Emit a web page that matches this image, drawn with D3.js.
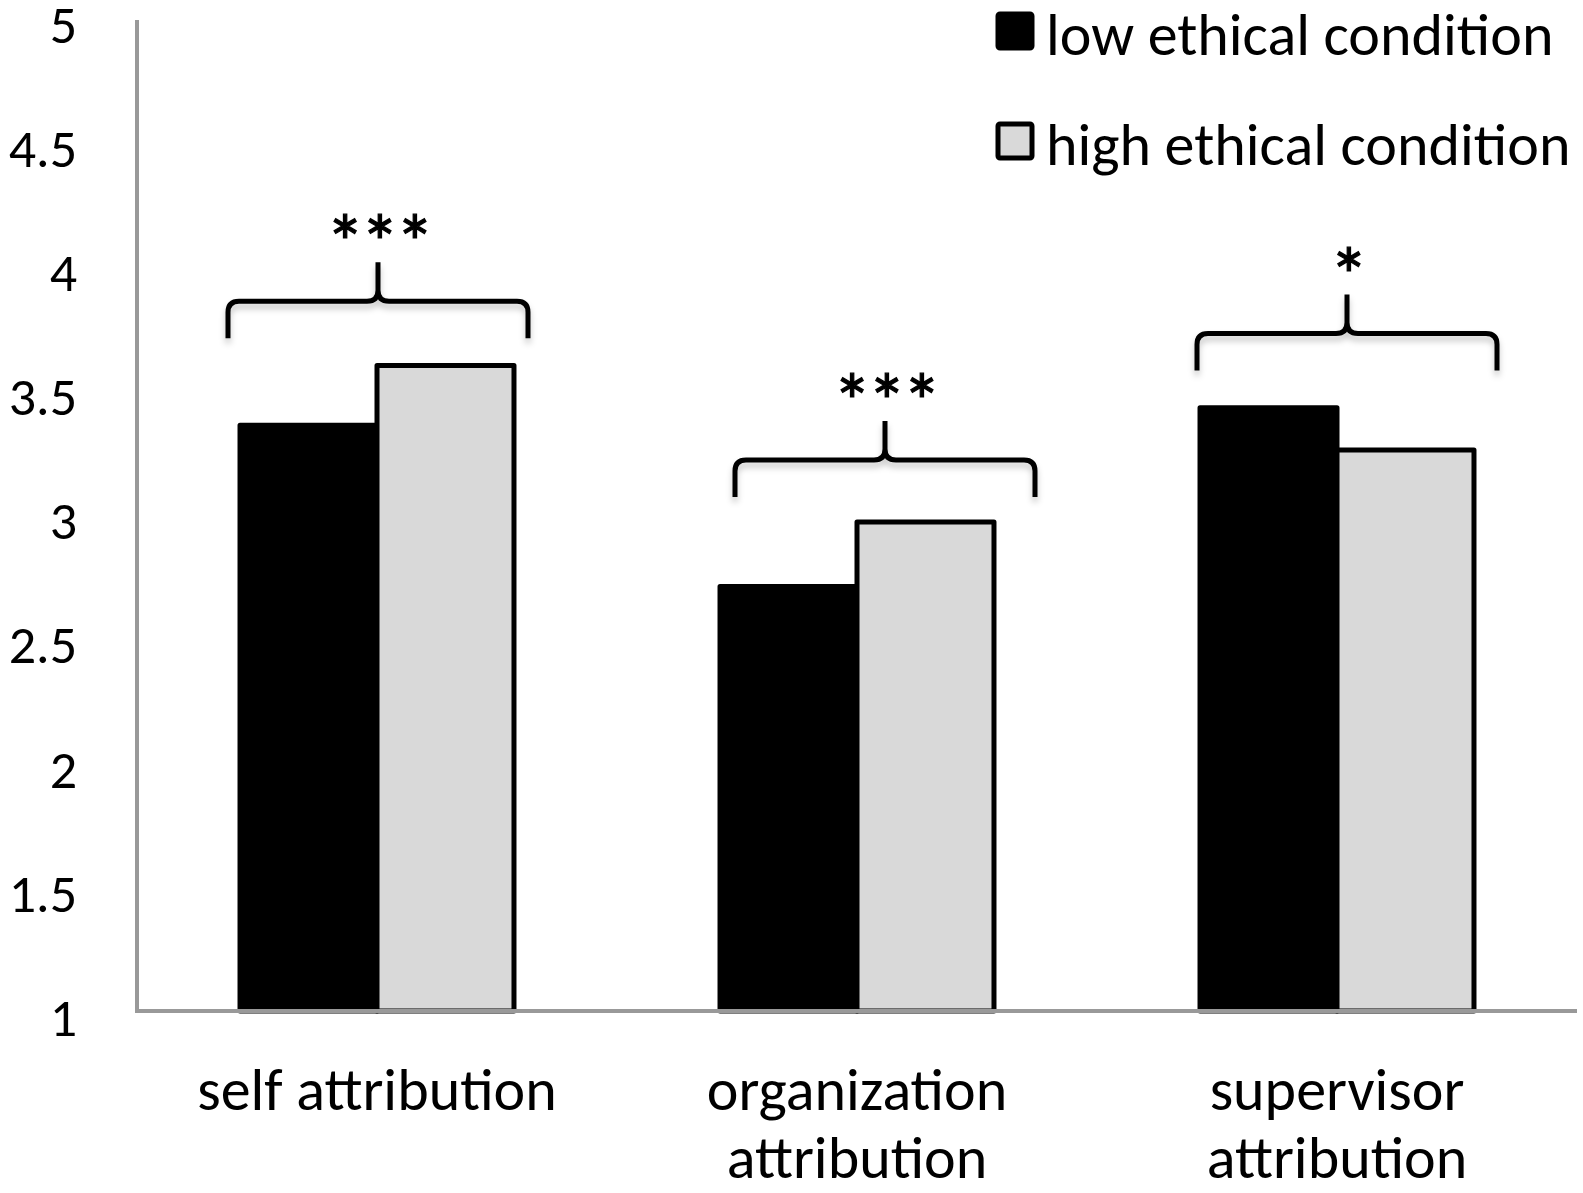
<!DOCTYPE html>
<html>
<head>
<meta charset="utf-8">
<script src="https://cdn.jsdelivr.net/npm/d3@7"></script>
<style>
  body { margin: 0; background: #fff; }
  text { font-family: Calibri, Carlito, Lato, sans-serif; fill: #000; }
</style>
</head>
<body>
<svg width="1583" height="1193"></svg>
<script>
// data
const categories = ["self attribution", "organization attribution", "supervisor attribution"];
const categoryLines = [["self attribution"], ["organization", "attribution"], ["supervisor", "attribution"]];
const seriesNames = ["low ethical condition", "high ethical condition"];
const lowValues = [3.36, 2.71, 3.43];
const highValues = [3.60, 2.97, 3.26];
const yTickValues = [1, 1.5, 2, 2.5, 3, 3.5, 4, 4.5, 5];
const sigLabels = ["***", "***", "*"];
const braceLevels = [3.71, 3.07, 3.58];

const seriesFill = ["#000000", "#d9d9d9"];

var svg = d3.select("svg"),
  width = +svg.attr("width"),
  height = +svg.attr("height");

var x0 = d3.scaleBand()
  .domain(categories)
  .range([137, 1577])
  .padding(0);

var x1 = d3.scaleBand()
  .domain(seriesNames)
  .range([0, x0.bandwidth()])
  .paddingInner(0)
  .paddingOuter(0.752);

var y = d3.scaleLinear()
  .domain([1, 5])
  .range([1011, 18]);

// shadow under the braces
var defs = svg.append("defs");
defs.append("filter")
  .attr("id", "braceShadow")
  .attr("x", "-10%").attr("y", "-30%")
  .attr("width", "120%").attr("height", "180%")
  .append("feDropShadow")
  .attr("dx", 0).attr("dy", 5)
  .attr("stdDeviation", 3)
  .attr("flood-color", "#000")
  .attr("flood-opacity", 0.22);

var rows = categories.map((c, i) => ({
  cat: c,
  values: [lowValues[i], highValues[i]]
}));

// bars
var groups = svg.append("g")
  .attr("class", "bars")
  .selectAll("g")
  .data(rows)
  .enter().append("g")
  .attr("transform", d => "translate(" + x0(d.cat) + ",0)");

groups.selectAll("rect")
  .data(d => d.values.map((v, j) => ({ key: seriesNames[j], value: v, j: j })))
  .enter().append("rect")
  .attr("x", d => x1(d.key))
  .attr("width", x1.bandwidth())
  .attr("y", d => y(d.value))
  .attr("height", d => y(1) - y(d.value))
  .attr("fill", d => seriesFill[d.j])
  .attr("stroke", "#000")
  .attr("stroke-width", 5)
  .attr("stroke-linejoin", "round");

// y axis labels
var yAxis = d3.axisLeft(y)
  .tickValues(yTickValues)
  .tickSize(0)
  .tickPadding(60)
  .tickFormat(d => String(d));

var yg = svg.append("g")
  .attr("transform", "translate(137,0)")
  .call(yAxis);
yg.select(".domain").remove();
yg.selectAll("text")
  .attr("dy", "0.45em")
  .style("font-size", "54px")
  .style("font-family", "Calibri, Carlito, Lato, sans-serif");

// axis lines
svg.append("line")
  .attr("x1", 137).attr("x2", 137)
  .attr("y1", 20).attr("y2", y(1))
  .attr("stroke", "#999").attr("stroke-width", 4);
svg.append("line")
  .attr("x1", 135).attr("x2", x0.range()[1])
  .attr("y1", y(1)).attr("y2", y(1))
  .attr("stroke", "#999").attr("stroke-width", 4);

// category labels
var labels = svg.append("g")
  .selectAll("text")
  .data(categories)
  .enter().append("text")
  .attr("x", d => x0(d) + x0.bandwidth() / 2)
  .attr("y", 1110)
  .attr("text-anchor", "middle")
  .style("font-size", "60px");

labels.selectAll("tspan")
  .data((d, i) => categoryLines[i])
  .enter().append("tspan")
  .attr("x", function() { return d3.select(this.parentNode).attr("x"); })
  .attr("dy", (d, i) => i === 0 ? 0 : 68)
  .text(d => d);

// significance braces
const braceNudge = [1, 28, 10];
const halfW = 150, armH = 37, tipH = 76, r = 11;

function bracePath() {
  return "M" + (-halfW) + ",0 L" + (-halfW) + "," + (-armH + r) +
    " Q" + (-halfW) + "," + (-armH) + " " + (-halfW + r) + "," + (-armH) +
    " L" + (-r) + "," + (-armH) +
    " Q0," + (-armH) + " 0," + (-armH - r) +
    " L0," + (-tipH) +
    " M0," + (-armH - r) +
    " Q0," + (-armH) + " " + r + "," + (-armH) +
    " L" + (halfW - r) + "," + (-armH) +
    " Q" + halfW + "," + (-armH) + " " + halfW + "," + (-armH + r) +
    " L" + halfW + ",0";
}

var braces = svg.append("g")
  .attr("class", "braces")
  .selectAll("g")
  .data(categories)
  .enter().append("g")
  .attr("transform", (d, i) => "translate(" + (x0(d) + x0.bandwidth() / 2 + braceNudge[i]) + "," + y(braceLevels[i]) + ")");

braces.append("path")
  .attr("d", bracePath())
  .attr("fill", "none")
  .attr("stroke", "#000")
  .attr("stroke-width", 5)
  .attr("filter", "url(#braceShadow)");

braces.append("text")
  .attr("x", 0)
  .attr("y", -tipH + 8)
  .attr("text-anchor", "middle")
  .style("font-size", "78px")
  .style("letter-spacing", "-4px")
  .attr("stroke", "#000")
  .attr("stroke-width", 1.2)
  .text((d, i) => sigLabels[i]);

// legend
var legend = svg.append("g")
  .selectAll("g")
  .data(seriesNames)
  .enter().append("g")
  .attr("transform", (d, i) => "translate(998," + (14 + i * 110) + ")");

legend.append("rect")
  .attr("width", 34).attr("height", 34)
  .attr("rx", 2)
  .attr("fill", (d, i) => seriesFill[i])
  .attr("stroke", "#000")
  .attr("stroke-width", 5);

legend.append("text")
  .attr("x", 48)
  .attr("y", 41)
  .style("font-size", "60px")
  .text(d => d);
</script>
</body>
</html>
